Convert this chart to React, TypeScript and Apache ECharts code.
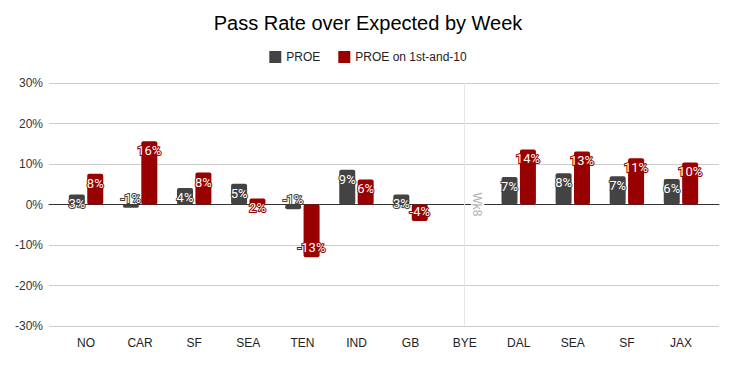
import React, { useEffect, useRef } from "react";
import * as echarts from "echarts";

const categories = ["NO", "CAR", "SF", "SEA", "TEN", "IND", "GB", "BYE", "DAL", "SEA ", "SF ", "JAX"];
const proe: (number | null)[] = [2.5, -0.8, 4.1, 5.1, -1.2, 8.6, 2.5, null, 6.8, 7.7, 7.0, 6.3];
const proeFirstTen: (number | null)[] = [7.6, 15.6, 7.9, 1.5, -13.0, 6.2, -4.1, null, 13.6, 13.1, 11.4, 10.4];
const yTicks = [-30, -20, -10, 0, 10, 20, 30];
const byeCategory = "BYE";
const byeLabel = "Wk8";

const DARK = "#434343";
const RED = "#990000";
const FONT = "'Liberation Sans', Arial, sans-serif";

function makeData(values: (number | null)[], color: string) {
  return values.map((v) => {
    if (v === null) return { value: null };
    const neg = v < 0;
    return {
      value: v,
      label: {
        show: true,
        position: neg ? "insideBottom" : "insideTop",
        distance: 3,
        formatter: () => `${Math.round(v)}%`,
        color: "#ffffff",
        fontSize: 13,
        fontFamily: "Roboto, " + FONT,
        textBorderColor: color,
        textBorderWidth: 2,
      },
    };
  });
}

export default function App() {
  const ref = useRef<HTMLDivElement>(null);
  useEffect(() => {
    if (!ref.current) return;
    document.body.style.margin = "0";
    const chart = echarts.init(ref.current, null, { renderer: "svg" });
    const yMin = yTicks[0];
    const yMax = yTicks[yTicks.length - 1];
    chart.setOption({
      animation: false,
      backgroundColor: "#ffffff",
      title: {
        text: "Pass Rate over Expected by Week",
        left: "center",
        top: 8,
        textStyle: { fontFamily: FONT, fontSize: 20, fontWeight: "normal", color: "#000000" },
      },
      legend: {
        data: ["PROE", "PROE on 1st-and-10"],
        top: 46,
        left: "center",
        icon: "rect",
        itemWidth: 12,
        itemHeight: 12,
        itemGap: 18,
        textStyle: { fontFamily: FONT, fontSize: 12, color: "#222222" },
      },
      grid: [
        { left: 49, right: 17, top: 83, bottom: 40 },
        { left: 59, right: 28, top: 83, bottom: 40 },
      ],
      xAxis: [
        {
          type: "value",
          gridIndex: 0,
          min: 0,
          max: 1,
          axisLabel: { show: false },
          axisTick: { show: false },
          splitLine: { show: false },
          axisLine: { show: true, onZero: true, lineStyle: { color: "#333333", width: 1 } },
        },
        {
          type: "category",
          gridIndex: 1,
          data: categories,
          axisLine: { show: false },
          axisTick: { show: false },
          axisLabel: {
            color: "#222222",
            fontFamily: FONT,
            fontSize: 12,
            margin: 11,
            formatter: (v: string) => v.trim(),
          },
        },
      ],
      yAxis: [
        {
          type: "value",
          gridIndex: 0,
          min: yMin,
          max: yMax,
          interval: 10,
          axisLine: { show: false },
          axisTick: { show: false },
          axisLabel: {
            formatter: "{value}%",
            color: "#333333",
            fontFamily: FONT,
            fontSize: 12,
            margin: 6,
          },
          splitLine: { lineStyle: { color: "#cccccc", width: 1 } },
        },
        {
          type: "value",
          gridIndex: 1,
          min: yMin,
          max: yMax,
          interval: 10,
          show: false,
          splitLine: { show: false },
        },
      ],
      series: [
        {
          name: "PROE",
          type: "bar",
          xAxisIndex: 1,
          yAxisIndex: 1,
          barWidth: 16,
          barGap: "15%",
          itemStyle: { color: DARK, borderRadius: 2 },
          data: makeData(proe, DARK),
        },
        {
          name: "PROE on 1st-and-10",
          type: "bar",
          xAxisIndex: 1,
          yAxisIndex: 1,
          barWidth: 16,
          barGap: "15%",
          itemStyle: { color: RED, borderRadius: 2 },
          data: makeData(proeFirstTen, RED),
        },
        {
          name: "bye",
          type: "scatter",
          xAxisIndex: 1,
          yAxisIndex: 1,
          symbolSize: 0,
          silent: true,
          z: 5,
          data: [[byeCategory, 0]],
          label: {
            show: true,
            position: "inside",
            formatter: byeLabel,
            rotate: -90,
            offset: [0, -12],
            color: "#999999",
            fontFamily: FONT,
            fontSize: 12,
            textBorderColor: "#ffffff",
            textBorderWidth: 4,
          },
          markLine: {
            silent: true,
            symbol: "none",
            label: { show: false },
            lineStyle: { color: "#e6e6e6", type: "solid", width: 1 },
            data: [{ xAxis: byeCategory }],
          },
        },
      ],
    });
    return () => chart.dispose();
  }, []);
  return <div ref={ref} style={{ width: 736, height: 366 }} />;
}
